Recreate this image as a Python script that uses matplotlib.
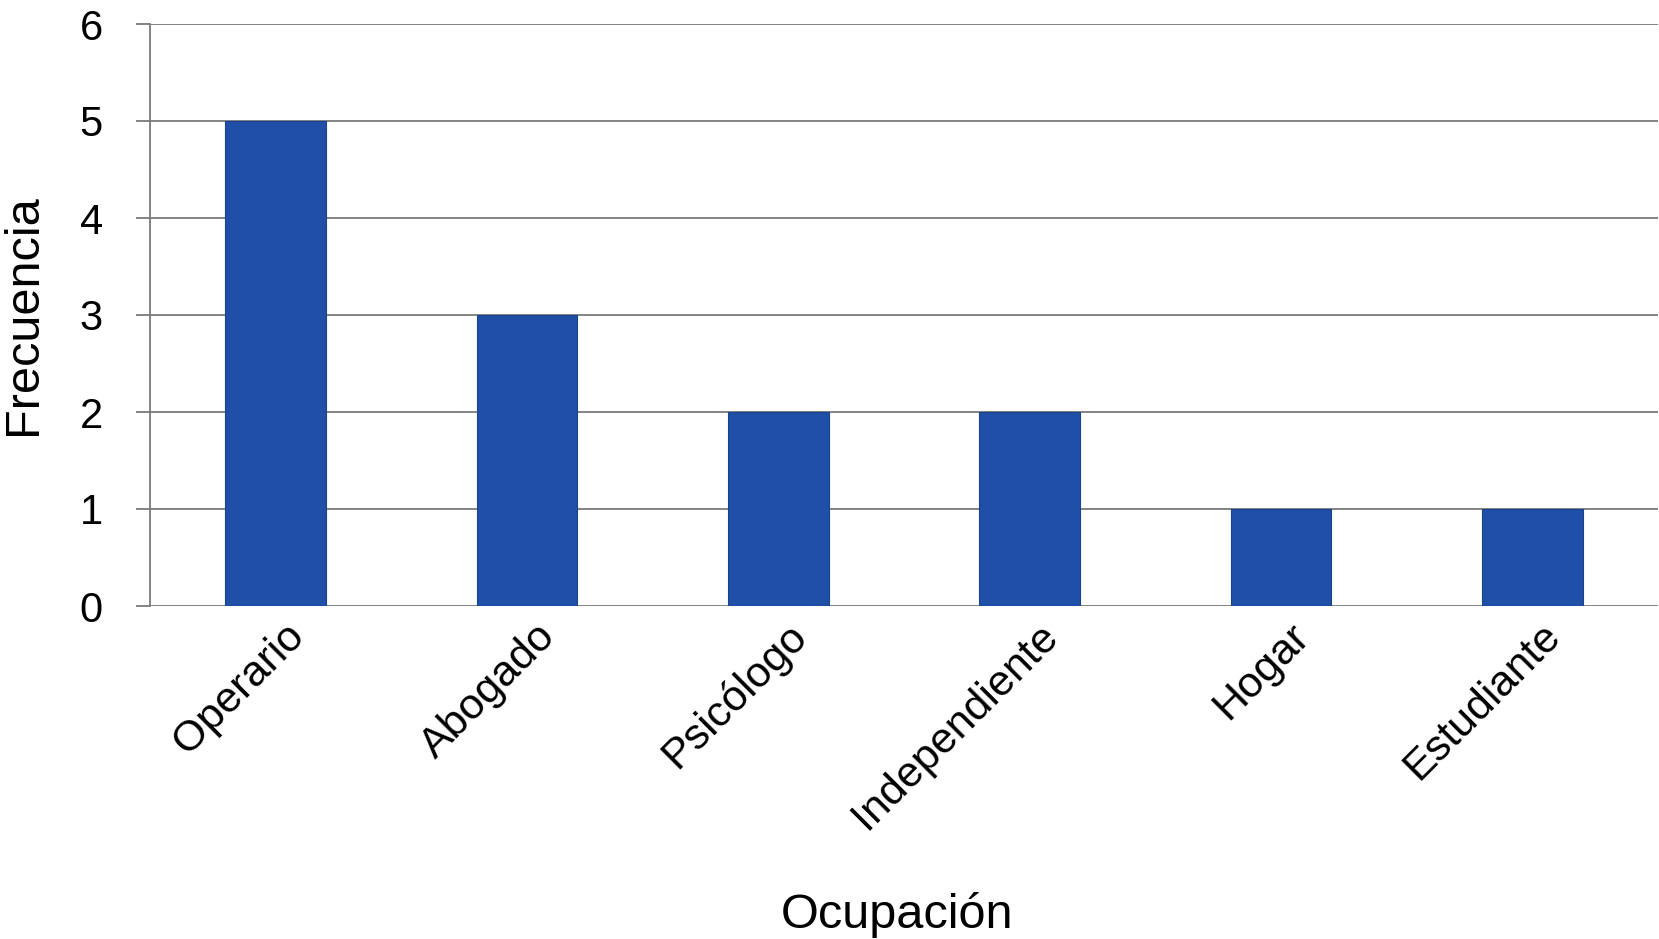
import matplotlib
matplotlib.use("Agg")
import matplotlib.pyplot as plt
from matplotlib.transforms import ScaledTranslation

categories = ["Operario", "Abogado", "Psicólogo", "Independiente", "Hogar", "Estudiante"]
frecuencia = [5, 3, 2, 2, 1, 1]
y_ticks = [0, 1, 2, 3, 4, 5, 6]

plt.rcParams['font.family'] = ['Liberation Sans', 'DejaVu Sans']

W, H = 1659, 939
fig = plt.figure(figsize=(W / 100, H / 100), dpi=100)
ax = fig.add_axes([150 / W, 1 - 606 / H, (1658 - 150) / W, (606 - 24) / H])

x = list(range(len(categories)))
ax.bar(x, frecuencia, width=0.4, color='#1F4FA6', edgecolor='#1A438E', linewidth=0.8, zorder=3)

ax.set_xlim(-0.5, len(categories) - 0.5)
ax.set_ylim(0, 6)
ax.set_yticks(y_ticks)
ax.set_yticklabels([str(v) for v in y_ticks], fontsize=30)
ax.yaxis.grid(True, color='#7A7A7A', linewidth=1.3, zorder=1)
ax.set_axisbelow(True)

for s in ['top', 'right', 'bottom']:
    ax.spines[s].set_visible(False)
ax.spines['left'].set_color('#7A7A7A')
ax.spines['left'].set_linewidth(1.3)
ax.tick_params(axis='y', length=10, width=1.3, color='#7A7A7A', pad=24)
ax.tick_params(axis='x', length=0, pad=7)

ax.set_xticks(x)
ax.set_xticklabels(categories, fontsize=31, rotation=45, ha='right', rotation_mode='anchor')
offset = ScaledTranslation(0.08, 0, fig.dpi_scale_trans)
for lbl in ax.get_xticklabels():
    lbl.set_transform(lbl.get_transform() + offset)

fig.text(24 / W, 1 - 315 / H, "Frecuencia", rotation=90, ha='center', va='center', fontsize=35)
fig.text(897 / W, 1 - 928 / H, "Ocupación", ha='center', va='baseline', fontsize=35)

fig.savefig("out.png", dpi=100, facecolor='white')
